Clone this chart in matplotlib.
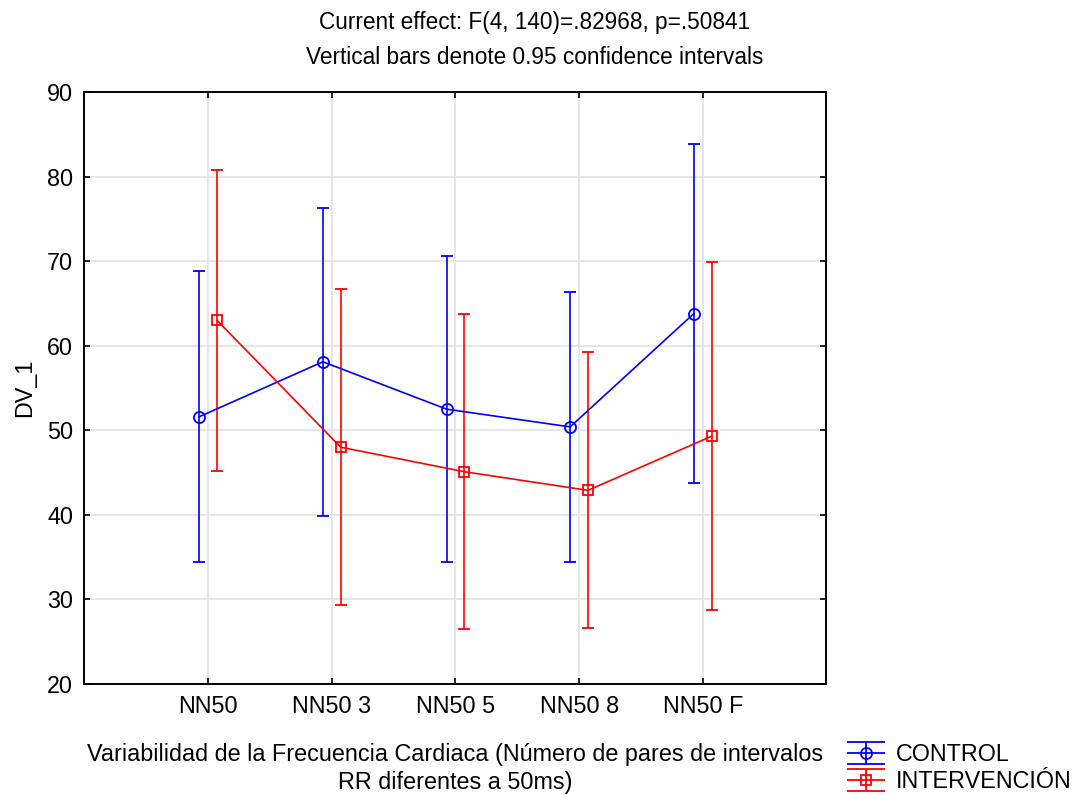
import matplotlib
matplotlib.use("Agg")
import matplotlib.pyplot as plt
from matplotlib.lines import Line2D
from matplotlib.path import Path
from matplotlib.legend_handler import HandlerTuple
import numpy as np

plt.rcParams['font.family'] = ['Liberation Sans', 'DejaVu Sans']

niveles = ["NN50", "NN50 3", "NN50 5", "NN50 8", "NN50 F"]

control_media = [51.6, 58.1, 52.5, 50.4, 63.8]
control_ic = [17.2, 18.2, 18.1, 16.0, 20.0]

interv_media = [63.0, 48.0, 45.1, 42.9, 49.3]
interv_ic = [17.8, 18.7, 18.6, 16.3, 20.6]

grupos = ["CONTROL", "INTERVENCIÓN"]
colores = ["blue", "red"]
marcadores = ["o", "s"]

x = np.arange(len(niveles))
desp = 0.072
fs = 16.8

fig = plt.figure(figsize=(10.76, 7.95), dpi=100)
ax = fig.add_axes([0.0785, 0.1396, 0.6895, 0.7447])

for i, (media, ic) in enumerate([(control_media, control_ic), (interv_media, interv_ic)]):
    ax.errorbar(x + (2 * i - 1) * desp, media, yerr=ic, color=colores[i],
                marker=marcadores[i], markersize=8 if i == 0 else 7.5,
                markerfacecolor='none', markeredgewidth=1.3,
                linewidth=1.2, elinewidth=1.2, capsize=4.3, capthick=1.2)

ax.set_xlim(-1, 5)
ax.set_ylim(20, 90)
ax.set_xticks(x)
ax.set_xticklabels(niveles)
ax.set_yticks(np.arange(20, 91, 10))
ax.tick_params(direction='in', length=4, width=1.2, labelsize=fs,
               top=True, right=True, pad=8)
for s in ax.spines.values():
    s.set_linewidth(1.4)
ax.grid(True, color='#e2e2e2', linewidth=1.2)
ax.set_axisbelow(True)

ax.set_ylabel("DV_1", fontsize=fs, labelpad=8)
ax.set_xlabel("Variabilidad de la Frecuencia Cardiaca (Número de pares de intervalos\nRR diferentes a 50ms)",
              fontsize=fs, labelpad=18, linespacing=1.25)

fig.text(0.497, 1 - 23 / 795, "Current effect: F(4, 140)=.82968, p=.50841",
         fontsize=16.3, ha='center', va='center')
fig.text(0.497, 1 - 58 / 795, "Vertical bars denote 0.95 confidence intervals",
         fontsize=16.3, ha='center', va='center')

# legend symbol: whisker with long caps, plus the group marker
barra = Path([(-1, 0.58), (1, 0.58), (-1, -0.58), (1, -0.58), (0, -0.58), (0, 0.58), (-1, 0), (1, 0)],
             [Path.MOVETO, Path.LINETO, Path.MOVETO, Path.LINETO,
              Path.MOVETO, Path.LINETO, Path.MOVETO, Path.LINETO])
handles = []
for c, m in zip(colores, marcadores):
    h1 = Line2D([], [], linestyle='none', marker=barra, markersize=27,
                markerfacecolor='none', markeredgecolor=c, markeredgewidth=1.3)
    h2 = Line2D([], [], linestyle='none', marker=m, markersize=8 if m == 'o' else 7.5,
                markerfacecolor='none', markeredgecolor=c, markeredgewidth=1.3)
    handles.append((h1, h2))

fig.legend(handles, grupos, handler_map={tuple: HandlerTuple(ndivide=1)},
           loc='center left', bbox_to_anchor=(848 / 1076, 1 - 768 / 795),
           frameon=False, borderpad=0, borderaxespad=0, fontsize=fs,
           handlelength=1.57, handletextpad=0.47, labelspacing=0.2)

fig.savefig("out.png", dpi=100)
